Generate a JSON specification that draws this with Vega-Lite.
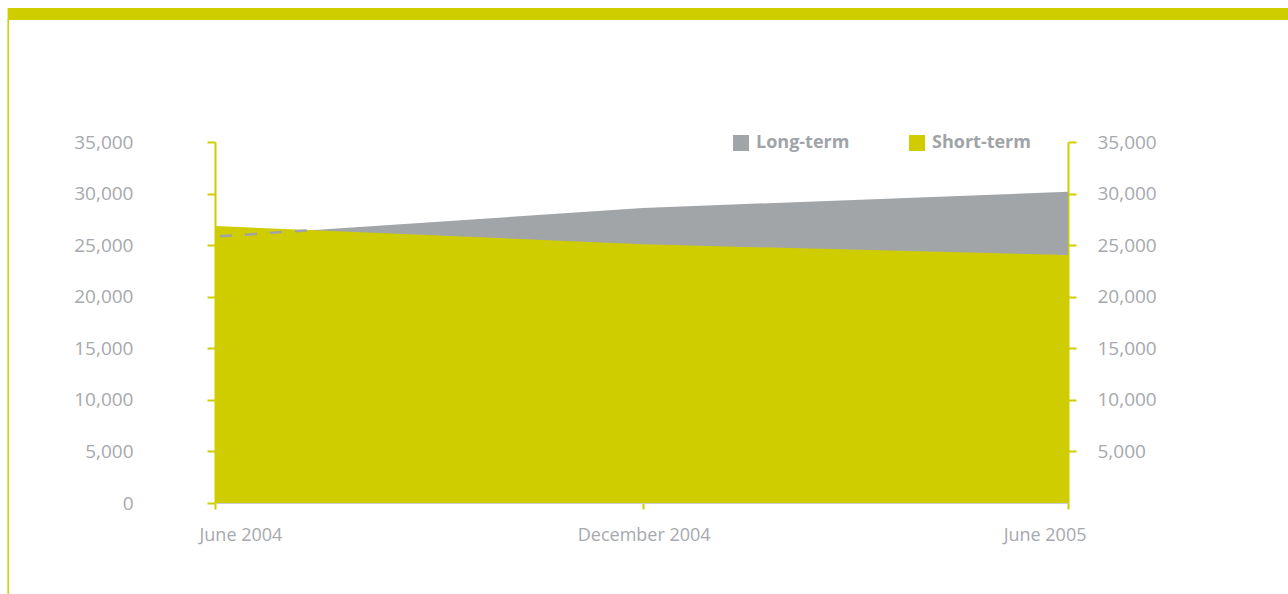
{
  "$schema": "https://vega.github.io/schema/vega-lite/v6.json",
  "width": 853,
  "height": 361,
  "autosize": {"type": "none"},
  "padding": {"left": 215, "top": 142, "right": 220, "bottom": 91},
  "background": "white",
  "config": {
    "view": {"stroke": null},
    "font": "Open Sans",
    "axis": {"labelFont": "Open Sans", "labelFontSize": 18, "labelColor": "#a6a9ad", "title": null, "grid": false}
  },
  "datasets": {
    "series": [
      {"date": "2004-06-01", "series": "Long-term", "value": 25820},
      {"date": "2004-12-01", "series": "Long-term", "value": 28600},
      {"date": "2005-06-01", "series": "Long-term", "value": 30180},
      {"date": "2004-06-01", "series": "Short-term", "value": 26860},
      {"date": "2004-12-01", "series": "Short-term", "value": 25080},
      {"date": "2005-06-01", "series": "Short-term", "value": 24040}
    ],
    "hidden": [
      {"date": "2004-06-01", "value": 25820},
      {"date": "2004-07-11", "value": 26440}
    ]
  },
  "layer": [
    {
      "data": {"name": "series"},
      "mark": {"type": "area", "interpolate": "linear"},
      "encoding": {
        "x": {
          "field": "date", "type": "temporal",
          "scale": {"type": "utc", "domain": [{"year": 2004, "month": 6, "date": 1, "utc": true}, {"year": 2005, "month": 6, "date": 1, "utc": true}]},
          "axis": {
            "values": [{"year": 2004, "month": 6, "date": 1, "utc": true}, {"year": 2004, "month": 12, "date": 1, "utc": true}, {"year": 2005, "month": 6, "date": 1, "utc": true}],
            "format": "%B %Y",
            "domainColor": "#cccccc", "domainWidth": 1,
            "tickColor": "#cfcd00", "tickWidth": 2, "tickSize": 6,
            "labelPadding": 31, "labelBaseline": "alphabetic",
            "labelFlush": true, "labelFlushOffset": 17, "labelOffset": 1
          }
        },
        "y": {
          "field": "value", "type": "quantitative", "stack": null,
          "scale": {"domain": [0, 35000], "nice": false},
          "axis": {
            "orient": "left",
            "values": [0, 5000, 10000, 15000, 20000, 25000, 30000, 35000],
            "format": ",d",
            "domainColor": "#cfcd00", "domainWidth": 2,
            "tickColor": "#cfcd00", "tickWidth": 2, "tickSize": 8,
            "labelPadding": 74, "labelBaseline": "middle", "labelFontSize": 19
          }
        },
        "color": {
          "field": "series", "type": "nominal",
          "scale": {"domain": ["Long-term", "Short-term"], "range": ["#a1a5a8", "#cfcd00"]},
          "legend": {
            "orient": "none", "legendX": 517, "legendY": -8,
            "direction": "horizontal", "title": null,
            "symbolType": "square", "symbolSize": 256, "symbolStrokeWidth": 0, "symbolOpacity": 1,
            "labelFont": "Open Sans", "labelFontSize": 18, "labelFontWeight": "bold", "labelColor": "#a0a4a8",
            "labelOffset": 6, "columnPadding": 58, "padding": 0
          }
        }
      }
    },
    {
      "data": {"name": "hidden"},
      "mark": {"type": "line", "color": "#a0a4a8", "strokeWidth": 2.5, "strokeDash": [12, 13], "strokeDashOffset": 20},
      "encoding": {
        "x": {"field": "date", "type": "temporal", "scale": {"type": "utc", "domain": [{"year": 2004, "month": 6, "date": 1, "utc": true}, {"year": 2005, "month": 6, "date": 1, "utc": true}]}},
        "y": {
          "field": "value", "type": "quantitative",
          "scale": {"domain": [0, 35000], "nice": false},
          "axis": {
            "orient": "right",
            "values": [5000, 10000, 15000, 20000, 25000, 30000, 35000],
            "format": ",d",
            "domainColor": "#cfcd00", "domainWidth": 2,
            "tickColor": "#cfcd00", "tickWidth": 2, "tickSize": 8,
            "labelPadding": 21, "labelBaseline": "middle", "labelFontSize": 19
          }
        }
      }
    },
    {
      "data": {"values": [{}]},
      "mark": {"type": "rect", "color": "#cfcd00", "clip": false},
      "encoding": {
        "x": {"datum": {"year": 2004, "month": 3, "date": 4, "hours": 6, "utc": true}, "type": "temporal", "scale": {"type": "utc", "domain": [{"year": 2004, "month": 6, "date": 1, "utc": true}, {"year": 2005, "month": 6, "date": 1, "utc": true}]}},
        "x2": {"datum": {"year": 2005, "month": 12, "date": 1, "utc": true}},
        "y": {"datum": 47992, "type": "quantitative", "scale": {"domain": [0, 35000], "nice": false}, "axis": null},
        "y2": {"datum": 46828}
      }
    },
    {
      "data": {"values": [{}]},
      "mark": {"type": "rule", "color": "#cfcd00", "strokeWidth": 1.5, "clip": false},
      "encoding": {
        "x": {"datum": {"year": 2004, "month": 3, "date": 4, "hours": 12, "utc": true}, "type": "temporal", "scale": {"type": "utc", "domain": [{"year": 2004, "month": 6, "date": 1, "utc": true}, {"year": 2005, "month": 6, "date": 1, "utc": true}]}},
        "y": {"datum": 46900, "type": "quantitative", "scale": {"domain": [0, 35000], "nice": false}, "axis": null},
        "y2": {"datum": -9000}
      }
    }
  ],
  "resolve": {"axis": {"y": "independent"}}
}
